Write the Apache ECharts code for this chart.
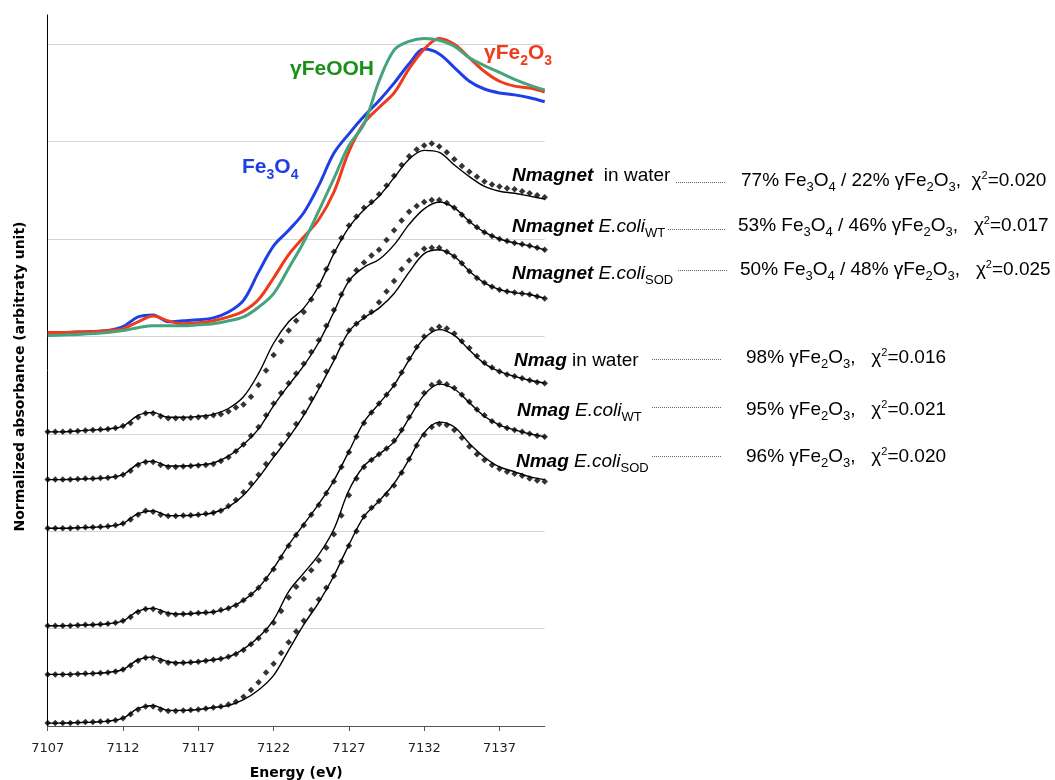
<!DOCTYPE html>
<html><head><meta charset="utf-8">
<script src="https://cdn.jsdelivr.net/npm/echarts@6/dist/echarts.min.js"></script>
<style>html,body{margin:0;padding:0;background:#fff}#c{width:1055px;height:780px}</style>
</head><body><div id="c"></div>
<script>
// ---------- DATA ----------
const E_FIT = [7107,7108,7109,7110,7111,7112,7113,7114,7115,7116,7117,7118,7119,7120,7121,7122,7123,7124,7125,7126,7127,7128,7129,7130,7131,7132,7133,7134,7135,7136,7137,7138,7139,7140];
const E_DATA = [7107,7107.5,7108,7108.5,7109,7109.5,7110,7110.5,7111,7111.5,7112,7112.5,7113,7113.5,7114,7114.5,7115,7115.5,7116,7116.5,7117,7117.5,7118,7118.5,7119,7119.5,7120,7120.5,7121,7121.5,7122,7122.5,7123,7123.5,7124,7124.5,7125,7125.5,7126,7126.5,7127,7127.5,7128,7128.5,7129,7129.5,7130,7130.5,7131,7131.5,7132,7132.5,7133,7133.5,7134,7134.5,7135,7135.5,7136,7136.5,7137,7137.5,7138,7138.5,7139,7139.5,7140];
const X_TICKS = [7107,7112,7117,7122,7127,7132,7137];

// reference spectra (stacked at offset REF_OFFSET)
const REF_OFFSET = 4;
const REF_FE3O4  = [0.04,0.04,0.045,0.05,0.06,0.10,0.20,0.22,0.15,0.16,0.17,0.19,0.25,0.37,0.66,0.93,1.09,1.27,1.55,1.88,2.08,2.26,2.42,2.60,2.80,2.95,2.90,2.76,2.62,2.54,2.50,2.48,2.45,2.41];
const REF_GFE2O3 = [0.04,0.04,0.045,0.05,0.06,0.08,0.15,0.21,0.16,0.13,0.14,0.16,0.20,0.26,0.38,0.60,0.84,1.02,1.20,1.48,1.90,2.19,2.35,2.50,2.75,2.95,3.06,3.00,2.86,2.72,2.62,2.57,2.55,2.51];
const REF_GFEOOH = [0.01,0.015,0.02,0.03,0.04,0.06,0.09,0.11,0.11,0.11,0.12,0.13,0.16,0.20,0.30,0.44,0.70,0.97,1.29,1.62,1.96,2.18,2.62,2.94,3.03,3.06,3.04,2.98,2.86,2.78,2.71,2.64,2.58,2.53];

// sample offsets (stacking)
const OFFSETS = [3, 2.5, 2, 1, 0.5, 0];

// linear-combination fits (solid lines)
const FIT_NMAGNET_WATER = [0.02,0.02,0.03,0.04,0.05,0.08,0.19,0.22,0.17,0.17,0.18,0.20,0.26,0.38,0.62,0.93,1.15,1.29,1.52,1.85,2.12,2.30,2.44,2.63,2.82,2.91,2.89,2.76,2.64,2.54,2.49,2.47,2.44,2.41];
const FIT_NMAGNET_WT    = [0.03,0.03,0.035,0.04,0.05,0.08,0.19,0.22,0.17,0.17,0.18,0.20,0.27,0.39,0.55,0.79,1.00,1.20,1.44,1.75,2.07,2.21,2.29,2.44,2.65,2.81,2.88,2.82,2.68,2.57,2.50,2.46,2.43,2.39];
const FIT_NMAGNET_SOD   = [0.03,0.03,0.035,0.04,0.05,0.08,0.18,0.21,0.16,0.16,0.17,0.19,0.25,0.37,0.55,0.76,0.96,1.19,1.46,1.75,2.05,2.19,2.29,2.44,2.66,2.85,2.89,2.82,2.67,2.55,2.48,2.45,2.43,2.39];
const FIT_NMAG_WATER    = [0.03,0.03,0.035,0.04,0.05,0.08,0.18,0.21,0.16,0.15,0.16,0.17,0.21,0.29,0.42,0.62,0.86,1.07,1.28,1.52,1.82,2.12,2.31,2.50,2.76,2.98,3.07,3.01,2.86,2.72,2.64,2.59,2.55,2.52];
const FIT_NMAG_WT       = [0.03,0.03,0.035,0.04,0.05,0.08,0.18,0.21,0.16,0.15,0.16,0.18,0.21,0.29,0.41,0.59,0.88,1.07,1.26,1.52,1.92,2.17,2.29,2.42,2.66,2.90,3.01,2.96,2.82,2.68,2.59,2.54,2.50,2.47];
const FIT_NMAG_SOD      = [0.03,0.03,0.035,0.04,0.05,0.08,0.18,0.21,0.16,0.16,0.17,0.19,0.21,0.27,0.37,0.52,0.78,1.04,1.27,1.54,1.86,2.15,2.31,2.49,2.74,3.01,3.12,3.07,2.90,2.76,2.66,2.61,2.56,2.53];

// measured spectra (dots)
const DATA_NMAGNET_WATER = [0.02,0.02,0.02,0.025,0.03,0.035,0.04,0.045,0.05,0.06,0.08,0.11,0.17,0.21,0.21,0.18,0.16,0.16,0.16,0.165,0.17,0.175,0.19,0.20,0.23,0.27,0.30,0.38,0.50,0.65,0.81,0.95,1.06,1.16,1.25,1.38,1.52,1.69,1.87,2.01,2.14,2.23,2.32,2.38,2.46,2.55,2.65,2.76,2.85,2.92,2.96,2.98,2.95,2.89,2.82,2.75,2.69,2.64,2.59,2.56,2.54,2.52,2.51,2.49,2.47,2.45,2.43];
const DATA_NMAGNET_WT    = [0.03,0.03,0.03,0.03,0.035,0.04,0.04,0.045,0.05,0.06,0.08,0.12,0.18,0.21,0.21,0.18,0.16,0.16,0.165,0.17,0.175,0.18,0.19,0.22,0.26,0.32,0.39,0.48,0.57,0.69,0.81,0.92,1.02,1.12,1.22,1.34,1.46,1.61,1.77,1.93,2.08,2.18,2.26,2.33,2.39,2.49,2.59,2.69,2.78,2.84,2.88,2.90,2.90,2.87,2.82,2.75,2.68,2.62,2.57,2.53,2.50,2.48,2.46,2.445,2.43,2.41,2.39];
const DATA_NMAGNET_SOD   = [0.03,0.03,0.03,0.03,0.035,0.04,0.04,0.045,0.05,0.06,0.08,0.12,0.17,0.21,0.20,0.17,0.155,0.155,0.16,0.165,0.17,0.18,0.19,0.21,0.26,0.32,0.40,0.49,0.58,0.69,0.79,0.89,0.99,1.10,1.22,1.36,1.49,1.64,1.78,1.92,2.06,2.13,2.20,2.25,2.35,2.46,2.57,2.69,2.78,2.84,2.90,2.91,2.91,2.87,2.82,2.75,2.67,2.60,2.55,2.51,2.48,2.46,2.45,2.44,2.43,2.41,2.39];
const DATA_NMAG_WATER    = [0.03,0.03,0.03,0.03,0.035,0.04,0.04,0.045,0.05,0.06,0.08,0.12,0.17,0.20,0.20,0.17,0.15,0.145,0.15,0.155,0.16,0.165,0.17,0.19,0.21,0.24,0.29,0.35,0.42,0.51,0.61,0.73,0.85,0.96,1.06,1.17,1.27,1.39,1.51,1.66,1.81,1.97,2.11,2.22,2.31,2.40,2.50,2.63,2.77,2.89,3.00,3.07,3.10,3.08,3.03,2.95,2.88,2.80,2.73,2.68,2.64,2.61,2.59,2.57,2.55,2.53,2.52];
const DATA_NMAG_WT       = [0.03,0.03,0.03,0.03,0.035,0.04,0.04,0.045,0.05,0.06,0.08,0.12,0.17,0.20,0.20,0.17,0.15,0.145,0.15,0.155,0.16,0.17,0.18,0.19,0.21,0.24,0.28,0.34,0.40,0.48,0.56,0.68,0.82,0.93,1.01,1.10,1.20,1.33,1.47,1.66,1.87,2.04,2.16,2.23,2.29,2.35,2.43,2.54,2.67,2.80,2.92,3.00,3.03,3.01,2.97,2.90,2.83,2.75,2.69,2.63,2.59,2.56,2.54,2.52,2.50,2.48,2.47];
const DATA_NMAG_SOD      = [0.03,0.03,0.03,0.03,0.035,0.04,0.04,0.045,0.05,0.06,0.08,0.12,0.17,0.20,0.20,0.17,0.155,0.155,0.16,0.165,0.17,0.18,0.19,0.20,0.22,0.25,0.30,0.37,0.45,0.55,0.64,0.75,0.86,0.97,1.08,1.19,1.30,1.42,1.54,1.69,1.85,2.00,2.15,2.24,2.31,2.38,2.47,2.60,2.74,2.88,2.99,3.07,3.10,3.09,3.04,2.96,2.87,2.79,2.73,2.68,2.64,2.61,2.59,2.57,2.54,2.52,2.51];

const FITS = [FIT_NMAGNET_WATER, FIT_NMAGNET_WT, FIT_NMAGNET_SOD, FIT_NMAG_WATER, FIT_NMAG_WT, FIT_NMAG_SOD];
const DATAS = [DATA_NMAGNET_WATER, DATA_NMAGNET_WT, DATA_NMAGNET_SOD, DATA_NMAG_WATER, DATA_NMAG_WT, DATA_NMAG_SOD];

// text labels (segments: [text, styleKey])
const SAMPLE_LABELS = [
  [['Nmagnet','bi'],['  in water','n']],
  [['Nmagnet','bi'],[' E.coli','i'],['WT','sub']],
  [['Nmagnet','bi'],[' E.coli','i'],['SOD','sub']],
  [['Nmag','bi'],[' in water','n']],
  [['Nmag','bi'],[' E.coli','i'],['WT','sub']],
  [['Nmag','bi'],[' E.coli','i'],['SOD','sub']]
];
const FIT_RESULTS = [
  [['77% Fe','n'],['3','sub'],['O','n'],['4','sub'],[' / 22% \u03b3Fe','n'],['2','sub'],['O','n'],['3','sub'],[',  \u03c7','n'],['2','sup'],['=0.020','n']],
  [['53% Fe','n'],['3','sub'],['O','n'],['4','sub'],[' / 46% \u03b3Fe','n'],['2','sub'],['O','n'],['3','sub'],[',   \u03c7','n'],['2','sup'],['=0.017','n']],
  [['50% Fe','n'],['3','sub'],['O','n'],['4','sub'],[' / 48% \u03b3Fe','n'],['2','sub'],['O','n'],['3','sub'],[',   \u03c7','n'],['2','sup'],['=0.025','n']],
  [['98% \u03b3Fe','n'],['2','sub'],['O','n'],['3','sub'],[',   \u03c7','n'],['2','sup'],['=0.016','n']],
  [['95% \u03b3Fe','n'],['2','sub'],['O','n'],['3','sub'],[',   \u03c7','n'],['2','sup'],['=0.021','n']],
  [['96% \u03b3Fe','n'],['2','sub'],['O','n'],['3','sub'],[',   \u03c7','n'],['2','sup'],['=0.020','n']]
];
const REF_LABELS = [
  [['Fe','lb'],['3','lbsub'],['O','lb'],['4','lbsub']],
  [['\u03b3FeOOH','lb']],
  [['\u03b3Fe','lb'],['2','lbsub'],['O','lb'],['3','lbsub']]
];

// ---------- LAYOUT / STYLE ----------
const COL_BLUE = '#1f3fe6', COL_RED = '#ee3b1c', COL_GREEN = '#45a47d', COL_GREEN_TXT = '#1a8f1a';
const FAM = '"Liberation Sans", Arial, sans-serif';
const STYLES = {
  bi:{fontStyle:'italic', fontWeight:'bold', size:19},
  n:{size:19}, i:{fontStyle:'italic', size:19},
  sub:{size:13, dy:4.5}, sup:{size:11, dy:-7.5},
  lb:{fontWeight:'bold', size:21}, lbsub:{fontWeight:'bold', size:14, dy:5.5}
};
const LEFT_POS  = [[512,182],[512,233],[512,280],[514,367],[517,417],[516,468]];
const RIGHT_POS = [[741,187],[738,232],[740,276],[746,364],[746,416],[746,463]];
const LEADERS   = [[676,726,182],[668,725,229],[678,728,270],[652,722,359],[652,722,407],[652,722,456]];
const REF_POS   = [[242,174,COL_BLUE],[290,76,COL_GREEN_TXT],[484,60,COL_RED]];

const mctx = document.createElement('canvas').getContext('2d');
function segRow(x0, base, segs, color){
  const out = []; let x = x0;
  for (const [txt,key] of segs){
    const s = STYLES[key];
    const fs = s.fontStyle||'normal', fw = s.fontWeight||'normal';
    mctx.font = fs+' '+fw+' '+s.size+'px '+FAM;
    const w = mctx.measureText(txt).width;
    out.push({type:'text', x:x, y: base + (s.dy||0) - 0.3465*s.size, silent:true, z:100,
      style:{text:txt, fill:color, fontSize:s.size, fontFamily:FAM, fontWeight:fw, fontStyle:fs, align:'left', verticalAlign:'middle'}});
    x += w;
  }
  return out;
}

let graphics = [];
SAMPLE_LABELS.forEach((segs,i)=>{ graphics = graphics.concat(segRow(LEFT_POS[i][0], LEFT_POS[i][1], segs, '#000')); });
FIT_RESULTS.forEach((segs,i)=>{ graphics = graphics.concat(segRow(RIGHT_POS[i][0], RIGHT_POS[i][1], segs, '#000')); });
REF_LABELS.forEach((segs,i)=>{ graphics = graphics.concat(segRow(REF_POS[i][0], REF_POS[i][1], segs, REF_POS[i][2])); });
LEADERS.forEach(l=>{
  graphics.push({type:'line', silent:true, z:100, shape:{x1:l[0], y1:l[2]+0.5, x2:l[1], y2:l[2]+0.5},
    style:{stroke:'#666', lineWidth:1, lineDash:[1,1]}});
});

// ---------- SERIES ----------
const series = [];
FITS.forEach((fit,k)=>{
  series.push({type:'line', data:E_FIT.map((e,i)=>[e, OFFSETS[k]+fit[i]]), smooth:0.35,
    showSymbol:false, silent:true, z:2, lineStyle:{color:'#000', width:1.4}, itemStyle:{color:'#000'}});
  series.push({type:'scatter', data:E_DATA.map((e,i)=>[e, OFFSETS[k]+DATAS[k][i]]), symbol:'diamond', symbolSize:6.5,
    silent:true, z:3, itemStyle:{color:'#000'}});
});
[[REF_FE3O4,COL_BLUE],[REF_GFE2O3,COL_RED],[REF_GFEOOH,COL_GREEN]].forEach(([arr,col])=>{
  series.push({type:'line', data:E_FIT.map((e,i)=>[e, REF_OFFSET+arr[i]]), smooth:0.35,
    showSymbol:false, silent:true, z:4, lineStyle:{color:col, width:3}, itemStyle:{color:col}});
});

const chart = echarts.init(document.getElementById('c'), null, {renderer:'canvas'});
chart.setOption({
  animation:false,
  backgroundColor:'#fff',
  grid:{left:47.7, right:510.3, top:15, bottom:54, containLabel:false, outerBoundsMode:'none'},
  xAxis:{type:'value', min:7107, max:7140, interval:5,
    axisLine:{show:true, lineStyle:{color:'#555', width:1}},
    axisTick:{show:true, length:5, customValues:X_TICKS, lineStyle:{color:'#555'}},
    axisLabel:{customValues:X_TICKS, formatter:(v)=>String(v), fontFamily:'"DejaVu Sans", Verdana, sans-serif', fontSize:13, color:'#222', margin:16},
    splitLine:{show:false},
    name:'Energy (eV)', nameLocation:'middle', nameGap:40,
    nameTextStyle:{fontFamily:'"DejaVu Sans", Verdana, sans-serif', fontWeight:'bold', fontSize:14, color:'#000'}},
  yAxis:{type:'value', min:0, max:7.3, interval:1,
    axisLine:{show:true, lineStyle:{color:'#000', width:1}},
    axisTick:{show:false}, axisLabel:{show:false},
    splitLine:{show:true, showMinLine:false, showMaxLine:false, lineStyle:{color:'#d4d4d4', width:1}},
    name:'Normalized absorbance (arbitraty unit)', nameLocation:'middle', nameRotate:90, nameGap:20,
    nameTextStyle:{fontFamily:'"DejaVu Sans", Verdana, sans-serif', fontWeight:'bold', fontSize:14, color:'#000', padding:[0,12,0,0]}},
  series:series,
  graphic:graphics
});
</script></body></html>
